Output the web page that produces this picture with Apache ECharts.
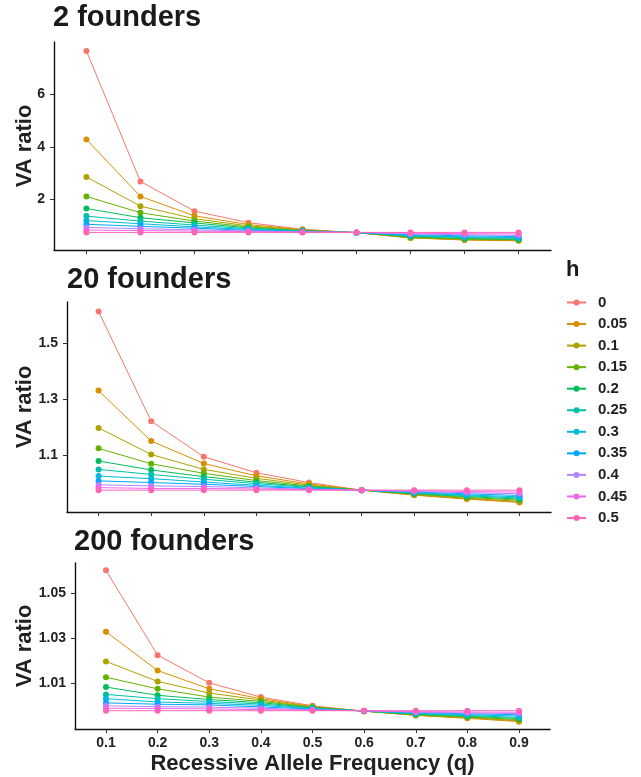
<!DOCTYPE html>
<html>
<head>
<meta charset="utf-8">
<script src="https://cdn.jsdelivr.net/npm/echarts@6/dist/echarts.min.js"></script>
<style>
  html, body { margin: 0; padding: 0; background: #fff; }
  #chart { width: 641px; height: 777px; }
</style>
</head>
<body>
<div id="chart"></div>
<script>
// recessive allele frequency (x) and dominance levels (legend)
const qValues = [0.1, 0.2, 0.3, 0.4, 0.5, 0.6, 0.7, 0.8, 0.9];
const hLevels = ['0', '0.05', '0.1', '0.15', '0.2', '0.25', '0.3', '0.35', '0.4', '0.45', '0.5'];
const hColors = ['#F8766D', '#DB8E00', '#AEA200', '#64B200', '#00BD5C', '#00C1A7',
                 '#00BADE', '#00A6FF', '#B385FF', '#EF67EB', '#FF63B6'];

// VA ratio, one row per h level (same order as hLevels)
const va2 = [
  [7.66, 2.69, 1.56, 1.12, 0.87, 0.74, 0.55, 0.47, 0.44],
  [4.29, 2.12, 1.38, 1.05, 0.85, 0.74, 0.54, 0.46, 0.43],
  [2.86, 1.75, 1.27, 1.00, 0.84, 0.74, 0.55, 0.48, 0.45],
  [2.12, 1.50, 1.18, 0.96, 0.82, 0.74, 0.57, 0.50, 0.47],
  [1.66, 1.31, 1.11, 0.92, 0.81, 0.74, 0.59, 0.52, 0.49],
  [1.37, 1.18, 1.03, 0.89, 0.80, 0.74, 0.61, 0.55, 0.52],
  [1.20, 1.08, 0.96, 0.86, 0.79, 0.74, 0.63, 0.58, 0.55],
  [1.06, 0.98, 0.91, 0.83, 0.78, 0.75, 0.66, 0.62, 0.59],
  [0.94, 0.89, 0.85, 0.80, 0.77, 0.75, 0.69, 0.66, 0.64],
  [0.84, 0.82, 0.80, 0.78, 0.76, 0.75, 0.72, 0.70, 0.69],
  [0.75, 0.75, 0.75, 0.75, 0.75, 0.75, 0.75, 0.75, 0.75]
];
const va20 = [
  [1.612, 1.221, 1.094, 1.037, 1.002, 0.975, 0.958, 0.944, 0.933],
  [1.330, 1.150, 1.070, 1.026, 0.997, 0.975, 0.957, 0.943, 0.931],
  [1.197, 1.102, 1.049, 1.017, 0.993, 0.975, 0.959, 0.946, 0.935],
  [1.124, 1.069, 1.035, 1.009, 0.990, 0.975, 0.961, 0.949, 0.939],
  [1.079, 1.047, 1.023, 1.003, 0.987, 0.975, 0.963, 0.952, 0.943],
  [1.049, 1.031, 1.014, 0.998, 0.985, 0.975, 0.965, 0.955, 0.947],
  [1.025, 1.016, 1.004, 0.992, 0.982, 0.975, 0.966, 0.958, 0.951],
  [1.008, 1.002, 0.996, 0.988, 0.980, 0.975, 0.968, 0.962, 0.956],
  [0.994, 0.990, 0.988, 0.983, 0.978, 0.975, 0.970, 0.966, 0.962],
  [0.984, 0.981, 0.981, 0.979, 0.977, 0.975, 0.973, 0.970, 0.968],
  [0.975, 0.975, 0.975, 0.975, 0.975, 0.975, 0.975, 0.975, 0.975]
];
const va200 = [
  [1.0604, 1.0224, 1.0100, 1.0036, 0.9997, 0.9973, 0.9955, 0.9943, 0.9930],
  [1.0329, 1.0155, 1.0073, 1.0029, 0.9994, 0.9973, 0.9954, 0.9941, 0.9926],
  [1.0196, 1.0106, 1.0054, 1.0023, 0.9992, 0.9973, 0.9955, 0.9944, 0.9930],
  [1.0125, 1.0073, 1.0036, 1.0017, 0.9990, 0.9973, 0.9957, 0.9947, 0.9935],
  [1.0081, 1.0044, 1.0025, 1.0011, 0.9988, 0.9973, 0.9959, 0.9950, 0.9940],
  [1.0048, 1.0029, 1.0016, 1.0005, 0.9986, 0.9974, 0.9961, 0.9953, 0.9945],
  [1.0029, 1.0014, 1.0008, 0.9999, 0.9984, 0.9974, 0.9963, 0.9957, 0.9951],
  [1.0010, 1.0004, 1.0001, 0.9992, 0.9982, 0.9974, 0.9966, 0.9961, 0.9957],
  [0.9997, 0.9993, 0.9991, 0.9986, 0.9979, 0.9975, 0.9968, 0.9965, 0.9962],
  [0.9986, 0.9985, 0.9983, 0.9980, 0.9977, 0.9975, 0.9971, 0.9969, 0.9968],
  [0.9975, 0.9975, 0.9975, 0.9975, 0.9975, 0.9975, 0.9975, 0.9975, 0.9975]
];

const yTicks2 = [2, 4, 6];
const yTicks20 = [1.1, 1.3, 1.5];
const yTicks200 = [1.01, 1.03, 1.05];

const panelTitles = ['2 founders', '20 founders', '200 founders'];

const font = 'Liberation Sans, Arial, sans-serif';
const chart = echarts.init(document.getElementById('chart'));

const panels = [
  { data: va2, ticks: yTicks2, min: 0.08, max: 8.0, dec: 0,
    grid: { left: 54, right: 90, top: 42, bottom: 527 }, gap: 18 },
  { data: va20, ticks: yTicks20, min: 0.897, max: 1.646, dec: 1,
    grid: { left: 67, right: 90, top: 302, bottom: 265 }, gap: 31 },
  { data: va200, ticks: yTicks200, min: 0.9893, max: 1.0637, dec: 2,
    grid: { left: 75, right: 91, top: 563, bottom: 48 }, gap: 39 }
];

const axisLine = { show: true, lineStyle: { color: '#111', width: 1.4 } };
const axisTick = { show: true, length: 4, lineStyle: { color: '#333', width: 1 } };

const grids = [], xAxes = [], yAxes = [], series = [];
panels.forEach((p, k) => {
  grids.push(Object.assign({ outerBoundsMode: 'none' }, p.grid));
  xAxes.push({
    type: 'value', gridIndex: k, min: 0.04, max: 0.96,
    axisLine: axisLine,
    axisTick: Object.assign({ customValues: qValues }, axisTick),
    axisLabel: {
      show: k === 2, customValues: qValues, margin: 7,
      formatter: v => v.toFixed(1),
      fontFamily: font, fontWeight: 'bold', fontSize: 14, color: '#222'
    },
    splitLine: { show: false },
    name: k === 2 ? 'Recessive Allele Frequency (q)' : '',
    nameLocation: 'middle', nameGap: 24, nameMoveOverlap: false,
    nameTextStyle: { fontFamily: font, fontWeight: 'bold', fontSize: 22, color: '#222' }
  });
  yAxes.push({
    type: 'value', gridIndex: k, min: p.min, max: p.max,
    axisLine: axisLine,
    axisTick: Object.assign({ customValues: p.ticks }, axisTick),
    axisLabel: {
      customValues: p.ticks, margin: 9,
      formatter: v => v.toFixed(p.dec),
      fontFamily: font, fontWeight: 'bold', fontSize: 14, color: '#222'
    },
    splitLine: { show: false },
    name: 'VA ratio', nameLocation: 'middle', nameGap: p.gap, nameMoveOverlap: false,
    nameTextStyle: { fontFamily: font, fontWeight: 'bold', fontSize: 22, color: '#222' }
  });
  p.data.forEach((row, i) => {
    series.push({
      type: 'line', name: hLevels[i], xAxisIndex: k, yAxisIndex: k,
      data: qValues.map((q, j) => [q, row[j]]),
      symbol: 'circle', symbolSize: 6,
      lineStyle: { width: 1, color: hColors[i] },
      itemStyle: { color: hColors[i] },
      emphasis: { disabled: true }
    });
  });
});

const titleStyle = { fontFamily: font, fontWeight: 'bold', fontSize: 29, color: '#1a1a1a' };

chart.setOption({
  animation: false,
  title: [
    { text: panelTitles[0], left: 53, top: 3, padding: 0, textStyle: titleStyle },
    { text: panelTitles[1], left: 67, top: 265, padding: 0, textStyle: titleStyle },
    { text: panelTitles[2], left: 74, top: 527, padding: 0, textStyle: titleStyle },
    { text: 'h', left: 566, top: 259, padding: 0,
      textStyle: { fontFamily: font, fontWeight: 'bold', fontSize: 22, color: '#1a1a1a' } }
  ],
  legend: {
    orient: 'vertical', left: 566, top: 295, padding: 0,
    data: hLevels, itemWidth: 19, itemHeight: 7.5, itemGap: 6.55,
    textStyle: { fontFamily: font, fontWeight: 'bold', fontSize: 15, color: '#222',
                 padding: [0, 0, 0, 7] }
  },
  grid: grids,
  xAxis: xAxes,
  yAxis: yAxes,
  series: series
});
</script>
</body>
</html>
